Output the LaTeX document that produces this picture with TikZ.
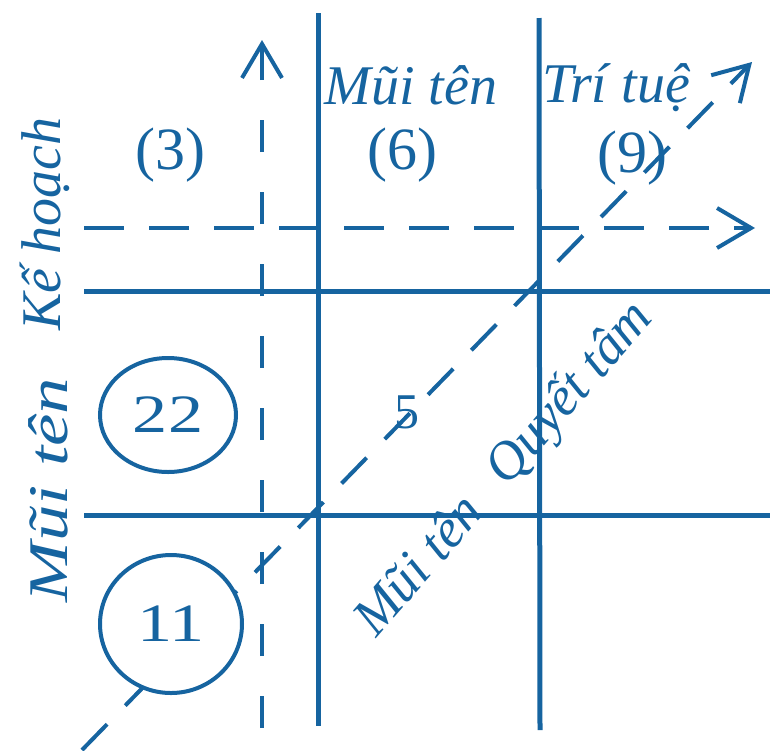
\documentclass[tikz,border=0pt]{standalone}
\usepackage{fontspec}
\usepackage{graphicx}
\setmainfont{Liberation Serif}
\usetikzlibrary{arrows.meta,shapes.geometric}
\definecolor{ink}{RGB}{22,100,160}
\begin{document}
\begin{tikzpicture}[x=1pt,y=-1pt,
  solidline/.style={draw=ink,line width=5pt},
  dashv/.style={draw=ink,line width=4pt,dash pattern=on 32pt off 40pt},
  dashh/.style={draw=ink,line width=4pt,dash pattern=on 40pt off 25pt},
  dashd/.style={draw=ink,line width=4pt,dash pattern=on 36pt off 26pt},
  tip/.style={-{Straight Barb[length=34pt,width=40pt]}},
  hand/.style={text=ink,font=\itshape\fontsize{56}{56}\selectfont,inner sep=0pt},
  num/.style={text=ink,font=\fontsize{60}{60}\selectfont,inner sep=0pt},
  ringnum/.style={text=ink,font=\fontsize{54}{54}\selectfont},
  ring/.style={draw=ink,line width=4pt,ellipse,fill=white,inner sep=0pt}]
\useasboundingbox (0,0) rectangle (770,750);
% coordinates
\coordinate (v1t) at (318,13);  \coordinate (v1b) at (318,726);
\coordinate (v2t) at (539,18);  \coordinate (v2b) at (540,730);
\coordinate (h1l) at (84,291);  \coordinate (h1r) at (770,291);
\coordinate (h2l) at (84,515);  \coordinate (h2r) at (770,515);
\coordinate (dvb) at (262,728); \coordinate (dvt) at (262,40);
\coordinate (dhl) at (84,228);  \coordinate (dhr) at (755,228);
\coordinate (dgb) at (82,750);  \coordinate (dgt) at (752,62);
% dashed axes
\draw[dashv,tip] (dvb) -- (dvt);
\draw[dashh,tip] (dhl) -- (dhr);
\draw[dashd,tip] (dgb) -- (dgt);
% solid grid
\draw[solidline] (v1t) -- (v1b);
\draw[solidline] (v2t) -- (v2b);
\draw[solidline] (h1l) -- (h1r);
\draw[solidline] (h2l) -- (h2r);
% circled numbers
\node[ring,minimum width=136pt,minimum height=114pt,ringnum] (c22) at (168,415) {\scalebox{1.3}[1]{22}};
\node[ring,minimum width=142pt,minimum height=138pt,ringnum] (c11) at (171,624) {\scalebox{1.3}[1]{11}};
% numbers
\node[num] (n3) at (170,155) {(3)};
\node[num] (n6) at (402,155) {(6)};
\node[num] (n9) at (632,158) {(9)};
\node[num,font=\fontsize{50}{50}\selectfont] (n5) at (407,412) {5};
% labels
\node[hand] (ltop1) at (411,85) {Mũi tên};
\node[hand] (ltop2) at (616,88) {Trí tuệ};
\node[hand,rotate=90] (lleft1) at (45,224) {Kế hoạch};
\node[hand,rotate=90] (lleft2) at (48,490) {\scalebox{1.3}[1]{Mũi tên}};
\node[hand,rotate=49,font=\itshape\fontsize{54}{54}\selectfont] (ldiag) at (505,470) {Mũi tên\hspace{34pt}Quyết tâm};
\end{tikzpicture}
\end{document}
